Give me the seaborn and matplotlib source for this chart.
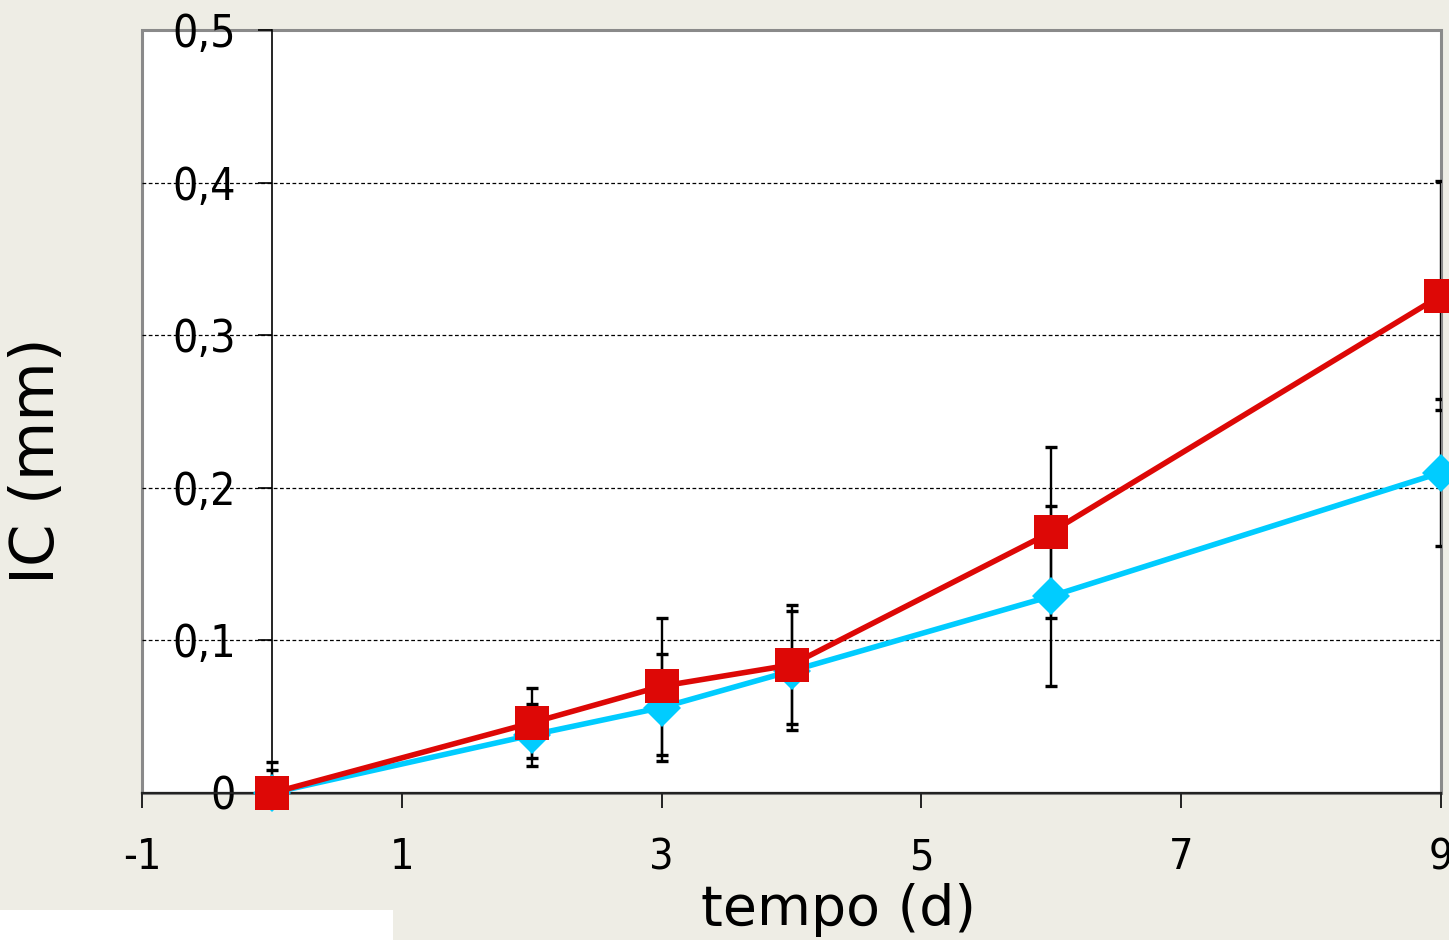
import pandas as pd
import matplotlib.pyplot as plt
import seaborn as sns
from matplotlib.patches import Rectangle

# values
tempo = [0, 2, 3, 4, 6, 9]
ic_red = [0.0, 0.046, 0.070, 0.084, 0.171, 0.326]
err_red = [0.020, 0.023, 0.045, 0.039, 0.056, 0.075]
ic_blue = [0.0, 0.038, 0.056, 0.080, 0.129, 0.210]
err_blue = [0.015, 0.020, 0.035, 0.039, 0.059, 0.048]

x_ticks = [-1, 1, 3, 5, 7, 9]
y_ticks = [0, 0.1, 0.2, 0.3, 0.4, 0.5]
y_labels = ['0', '0,1', '0,2', '0,3', '0,4', '0,5']

df_red = pd.DataFrame({'tempo': tempo, 'ic': ic_red})
df_blue = pd.DataFrame({'tempo': tempo, 'ic': ic_blue})

sns.set_style("white")
plt.rcParams['font.family'] = ['DejaVu Sans']
plt.rcParams['text.color'] = 'black'
plt.rcParams['axes.labelcolor'] = 'black'
plt.rcParams['xtick.color'] = 'black'
plt.rcParams['ytick.color'] = 'black'

bg = '#eeede5'
fig = plt.figure(figsize=(14.49, 9.40), dpi=100, facecolor=bg)
ax = fig.add_axes([142 / 1449, 1 - 793 / 940, (1441 - 142) / 1449, (793 - 30) / 940])
ax.set_facecolor('white')

# error bars (behind markers)
ax.errorbar(tempo, ic_blue, yerr=err_blue, fmt='none', ecolor='black',
            elinewidth=1.7, capsize=4.3, capthick=2.4, zorder=2)
ax.errorbar(tempo, ic_red, yerr=err_red, fmt='none', ecolor='black',
            elinewidth=1.7, capsize=4.3, capthick=2.4, zorder=2)

sns.lineplot(data=df_blue, x='tempo', y='ic', ax=ax, color='#00ccff',
             linewidth=4, marker='D', markersize=19, markeredgewidth=0,
             clip_on=False, zorder=3)
sns.lineplot(data=df_red, x='tempo', y='ic', ax=ax, color='#dd0806',
             linewidth=4, marker='s', markersize=24, markeredgewidth=0,
             clip_on=False, zorder=4)

ax.set_xlim(-1, 9)
ax.set_ylim(0, 0.5)

# grid lines
for yv in y_ticks[1:-1]:
    ax.axhline(yv, color='black', linestyle=(0, (3, 2)), linewidth=0.9, zorder=1)

# frame and axes
ax.add_patch(Rectangle((0, 0), 1, 1, transform=ax.transAxes, fill=False,
                       edgecolor='#8a8a8a', linewidth=2.2, clip_on=False, zorder=0.5))
for s in ['top', 'right']:
    ax.spines[s].set_visible(False)
ax.spines['left'].set_position(('data', 0))
ax.spines['left'].set_color('black')
ax.spines['left'].set_linewidth(1.2)
ax.spines['bottom'].set_color('#222222')
ax.spines['bottom'].set_linewidth(1.6)

ax.set_xticks(x_ticks)
ax.set_xticklabels([str(v) for v in x_ticks])
ax.set_yticks(y_ticks)
ax.set_yticklabels(y_labels)
ax.tick_params(axis='x', direction='out', length=11, width=1.4, color='#222222',
               labelsize=31, pad=20, bottom=True)
ax.tick_params(axis='y', direction='out', length=10, width=1.2, color='black',
               labelsize=32, pad=16, left=True)
for lab in ax.get_xticklabels() + ax.get_yticklabels():
    lab.set_fontstretch('condensed')

ax.set_xlabel('tempo (d)', fontsize=40)
ax.xaxis.set_label_coords(0.536, -0.118)
ax.set_ylabel('IC (mm)', fontsize=44)
ax.yaxis.set_label_coords(-0.058, 0.436)

# white box at bottom left of the slide
fig.patches.append(Rectangle((0, 0), 393 / 1449, 30 / 940, transform=fig.transFigure,
                             facecolor='white', edgecolor='none', zorder=0))

fig.savefig('out.png', dpi=100, facecolor=bg)
